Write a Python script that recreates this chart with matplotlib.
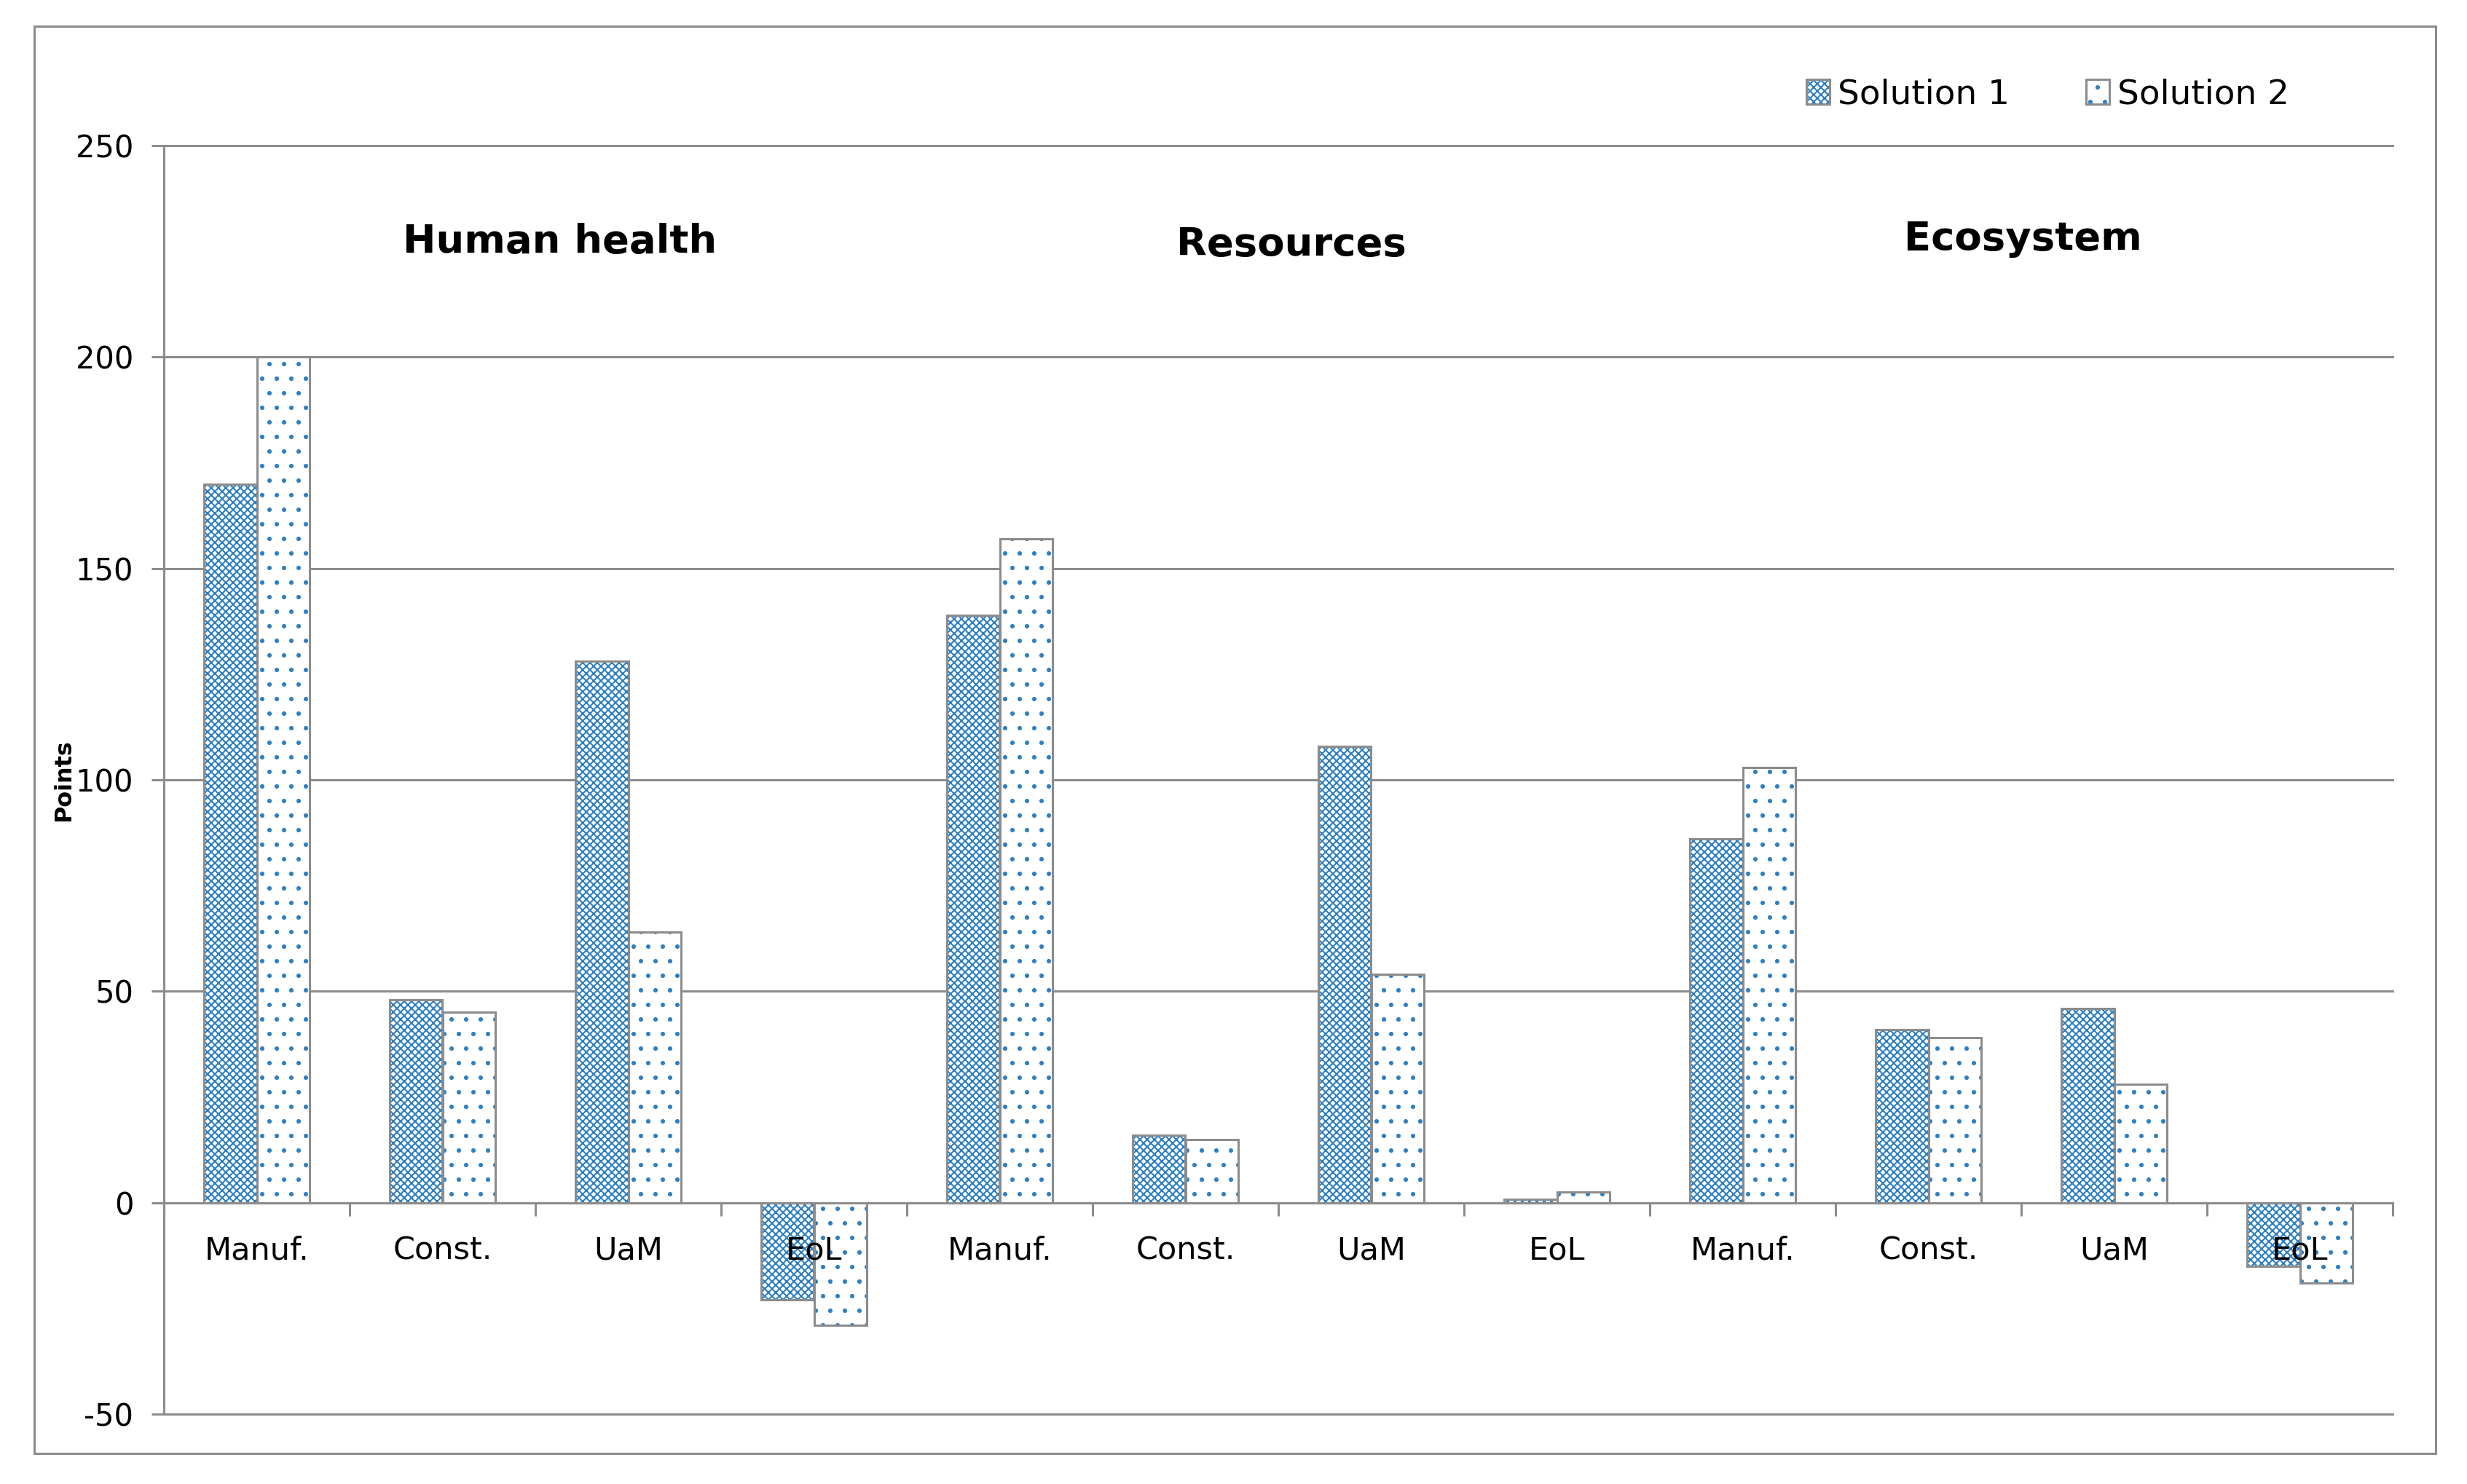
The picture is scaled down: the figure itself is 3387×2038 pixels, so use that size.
import matplotlib
matplotlib.use("Agg")
import matplotlib.pyplot as plt
from matplotlib.patches import Rectangle
from matplotlib.legend_handler import HandlerTuple
import numpy as np

categories = ["Manuf.", "Const.", "UaM", "EoL"] * 3
groups = ["Human health", "Resources", "Ecosystem"]
solution1 = [170, 48, 128, -23, 139, 16, 108, 0.8, 86, 41, 46, -15]
solution2 = [200, 45, 64, -29, 157, 15, 54, 2.6, 103, 39, 28, -19]
series_names = ["Solution 1", "Solution 2"]
yticks = [-50, 0, 50, 100, 150, 200, 250]

GRAY = "#8c8c8c"
BLUE = "#2f80c2"

W, H, DPI = 3387, 2038, 240
k = 200 / DPI  # sizes below are tuned in points at 200 dpi

plt.rcParams["font.family"] = ["DejaVu Sans"]
plt.rcParams["axes.unicode_minus"] = False
plt.rcParams["hatch.linewidth"] = 0.75 * k

fig = plt.figure(figsize=(W / DPI, H / DPI), dpi=DPI)
ax = fig.add_axes([225 / W, 1 - 1942 / H, (3285 - 225) / W, (1942 - 200) / H])

x = np.arange(len(categories))
bw = 0.284
LW = 1.1 * k

b1 = ax.bar(x - bw / 2, solution1, bw, color="white", edgecolor=BLUE, linewidth=0,
            hatch="xxxxxxxx", zorder=2)
o1 = ax.bar(x - bw / 2, solution1, bw, fill=False, edgecolor=GRAY, linewidth=LW, zorder=3)
b2 = ax.bar(x + bw / 2, solution2, bw, color="white", edgecolor=BLUE, linewidth=0,
            hatch="..", zorder=2)
o2 = ax.bar(x + bw / 2, solution2, bw, fill=False, edgecolor=GRAY, linewidth=LW, zorder=3)

ax.set_xlim(-0.5, len(categories) - 0.5)
ax.set_ylim(-50, 250)
ax.set_yticks(yticks)
ax.yaxis.grid(True, color=GRAY, linewidth=LW)
ax.set_axisbelow(True)
for gl in ax.get_ygridlines():
    gl.set_clip_on(False)

for s in ["top", "right"]:
    ax.spines[s].set_visible(False)
ax.spines["bottom"].set_position(("data", 0))
ax.spines["bottom"].set_color(GRAY)
ax.spines["bottom"].set_linewidth(LW)
ax.spines["bottom"].set_zorder(4)
ax.spines["left"].set_color(GRAY)
ax.spines["left"].set_linewidth(LW)

ax.set_xticks(x)
ax.set_xticklabels([])
ax.set_xticks(np.arange(-0.5, len(categories), 1.0), minor=True)
ax.tick_params(axis="x", which="major", length=0)
ax.tick_params(axis="x", which="minor", length=6.5 * k, width=LW, color=GRAY, direction="out")
ax.tick_params(axis="y", length=6 * k, width=LW, color=GRAY, pad=9 * k, labelsize=15 * k)

for xi, cat in zip(x, categories):
    ax.annotate(cat, xy=(xi, 0), xytext=(0, -16 * k), textcoords="offset points",
                ha="center", va="top", fontsize=15.5 * k, zorder=6)

group_x = [1.63, 5.57, 9.51]
group_y = [227.3, 226.6, 227.9]
for gx, gy, g in zip(group_x, group_y, groups):
    ax.text(gx, gy, g, ha="center", va="center", fontsize=19.6 * k, fontweight="bold")

fig.text(88 / W, 1 - 1072 / H, "Points", rotation=90, ha="center", va="center",
         fontsize=11.5 * k, fontweight="bold")

leg = fig.legend([(b1[0], o1[0]), (b2[0], o2[0])], series_names,
                 handler_map={tuple: HandlerTuple(ndivide=1, pad=0)},
                 loc="center left", bbox_to_anchor=(2480 / W, 1 - 130 / H),
                 ncol=2, frameon=False, fontsize=16.9 * k, handlelength=0.68,
                 handleheight=0.75, handletextpad=0.23, columnspacing=2.25,
                 borderaxespad=0, borderpad=0)

fig.patches.append(Rectangle((47 / W, 1 - 1996 / H), (3344 - 47) / W, (1996 - 36) / H,
                             transform=fig.transFigure, fill=False, edgecolor=GRAY,
                             linewidth=LW))

fig.savefig("out.png", dpi=DPI, facecolor="white")
